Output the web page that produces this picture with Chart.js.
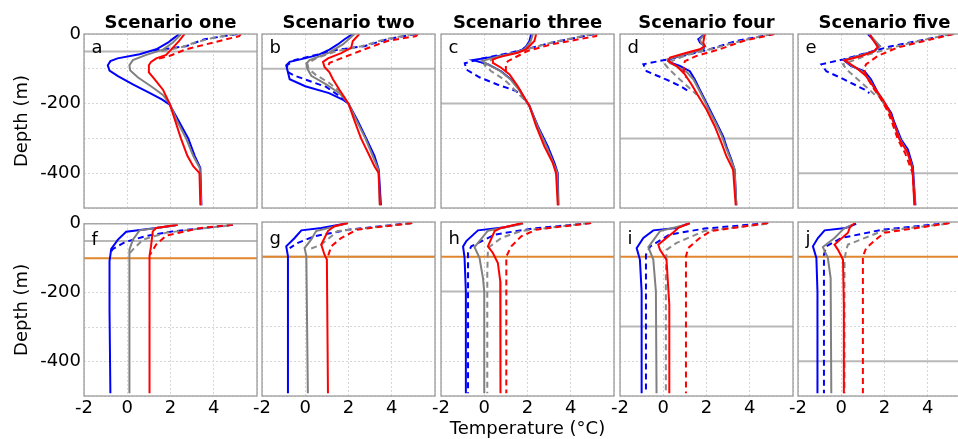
<!DOCTYPE html>
<html><head><meta charset="utf-8">
<script src="https://cdn.jsdelivr.net/npm/chart.js@4.4.1/dist/chart.umd.min.js"></script>
<style>
html,body{margin:0;padding:0;background:#fff;overflow:hidden}
#fig{position:relative;width:958px;height:439px;overflow:hidden;background:#fff}
#fig canvas{position:absolute}
</style></head><body><div id="fig"></div>
<script>
// ---------- labels ----------
const titles = ['Scenario one','Scenario two','Scenario three','Scenario four','Scenario five'];
const lettersTop = ['a','b','c','d','e'];
const lettersBottom = ['f','g','h','i','j'];
const xTickLabels = [-2,0,2,4];
const yTickLabels = [0,-200,-400];
const refDepths = [50,100,200,300,400];   // grey line depth per column (m)
const mixDepth = 100;                      // orange line, bottom row (m)

// ---------- profiles: [depth (m), temperature (°C)] ----------
// Scenario one (a)
const aRed   = [[0,2.65],[20,2.4],[40,2.1],[60,1.8],[70,1.34],[80,1.1],[90,1.0],[110,1.0],[130,1.26],[160,1.65],[200,1.96],[250,2.22],[300,2.48],[350,2.78],[380,3.05],[400,3.34],[492,3.38]];
const aRedD  = [[0,5.25],[6,5.18],[25,3.95],[44,2.72],[63,1.95],[73,1.34]];
const aGray  = [[0,2.5],[25,2.1],[45,1.65],[60,0.88],[75,0.26],[90,0.1],[105,0.14],[125,0.5],[150,1.1],[175,1.65],[200,1.96],[250,2.3],[300,2.72],[350,3.05],[385,3.35],[492,3.42]];
const aGrayD = [[0,5.0],[12,3.9],[25,3.1],[38,2.5],[52,1.4]];
const aBlue  = [[0,2.42],[12,2.15],[25,1.88],[44,1.34],[58,0.57],[70,-0.45],[78,-0.78],[90,-0.9],[105,-0.82],[121,-0.43],[145,0.26],[169,1.03],[188,1.6],[202,1.95],[250,2.38],[300,2.82],[350,3.12],[385,3.38],[492,3.43]];
const aBlueD = [[0,5.1],[15,3.57],[35,2.72],[48,1.2]];
// Scenario two (b)
const bRed   = [[0,2.5],[20,2.2],[40,2.12],[55,1.66],[70,1.05],[80,0.82],[95,0.89],[110,1.12],[130,1.28],[160,1.58],[200,2.0],[250,2.28],[300,2.58],[350,2.97],[380,3.2],[400,3.4],[492,3.45]];
const bRedD  = [[0,5.2],[6,5.12],[20,3.8],[44,2.74],[68,1.74],[83,1.12],[100,1.0]];
const bGray  = [[0,2.28],[30,1.74],[55,1.05],[75,0.2],[85,0.05],[100,0.1],[120,0.28],[145,0.97],[170,1.58],[200,2.0],[250,2.38],[300,2.78],[350,3.12],[390,3.38],[492,3.45]];
const bGrayD = [[0,5.0],[15,3.7],[35,2.6],[50,1.4],[70,0.5],[85,0.1],[100,0.15],[118,0.5],[140,1.1],[165,1.6],[195,1.95]];
const bBlue  = [[0,2.2],[15,1.82],[30,1.5],[45,1.12],[60,0.6],[70,-0.03],[80,-0.72],[90,-0.88],[110,-0.8],[130,-0.72],[150,0.0],[170,1.1],[190,1.78],[200,2.0],[250,2.43],[300,2.82],[350,3.2],[390,3.4],[492,3.5]];
const bBlueD = [[0,5.12],[15,3.8],[35,2.74],[45,1.5],[60,0.5],[75,-0.5],[90,-0.85],[110,-0.78],[120,-0.49],[152,0.97],[175,1.5],[195,1.9]];
// Scenario three (c)
const cRed   = [[0,2.4],[20,2.32],[44,1.94],[54,1.55],[65,0.78],[73,0.4],[83,0.4],[97,0.78],[116,1.17],[150,1.55],[183,1.86],[207,2.09],[265,2.4],[323,2.78],[371,3.17],[400,3.32],[492,3.4]];
const cRedD  = [[0,5.2],[6,5.17],[30,3.09],[49,2.0],[78,1.09],[87,1.0],[107,1.0],[116,1.17]];
const cGray  = [[0,2.25],[20,2.15],[35,1.98],[44,1.85],[54,1.45],[65,0.6],[78,-0.1],[90,0.25],[107,0.75],[131,1.22],[160,1.6],[193,1.94],[207,2.09],[265,2.45],[323,2.88],[371,3.2],[400,3.38],[492,3.42]];
const cGrayD = [[0,5.0],[22,3.3],[45,1.9],[62,0.9],[80,0.1],[88,0.0],[107,0.32],[130,0.9],[150,1.25],[170,1.55],[190,1.88]];
const cBlue  = [[0,2.17],[20,2.09],[35,1.94],[44,1.78],[54,1.4],[65,0.48],[75,-0.52],[87,0.17],[107,0.78],[131,1.25],[160,1.63],[193,1.94],[207,2.09],[265,2.48],[323,2.94],[371,3.25],[400,3.4],[492,3.43]];
const cBlueD = [[0,5.1],[25,3.1],[44,1.9],[58,0.9],[72,-0.2],[84,-0.9],[102,-0.83],[125,-0.2],[145,0.6],[164,1.48],[190,1.9]];
// Scenario four (d)
const dRed   = [[0,1.92],[25,1.85],[35,1.92],[44,1.69],[54,1.08],[68,0.31],[78,0.23],[92,0.62],[116,1.0],[145,1.31],[178,1.62],[217,2.0],[265,2.38],[313,2.69],[351,2.92],[390,3.23],[492,3.35]];
const dRedD  = [[0,5.15],[20,3.7],[44,2.6],[63,1.54],[78,1.0],[90,0.95],[110,0.95],[125,1.05]];
const dGray  = [[0,1.95],[15,1.7],[25,1.75],[35,1.9],[44,1.8],[58,1.0],[73,0.2],[83,0.3],[95,0.7],[110,1.1],[131,1.4],[160,1.65],[188,1.88],[217,2.1],[255,2.42],[294,2.72],[323,2.88],[361,3.12],[390,3.3],[492,3.38]];
const dGrayD = [[0,5.0],[20,3.6],[40,2.4],[60,1.1],[75,0.5],[87,0.08],[100,0.25],[131,0.77],[160,1.3],[175,1.55]];
const dBlue  = [[0,1.92],[15,1.62],[25,1.7],[35,1.92],[44,1.85],[58,1.08],[73,0.23],[83,0.38],[92,0.77],[107,1.23],[131,1.46],[160,1.69],[188,1.92],[217,2.15],[255,2.46],[294,2.77],[323,2.92],[361,3.15],[390,3.3],[492,3.38]];
const dBlueD = [[0,5.08],[20,3.38],[44,2.15],[63,0.9],[73,0.2],[87,-0.92],[107,-0.77],[131,0.15],[150,0.8],[167,1.23]];
// Scenario five (e)
const eRed   = [[0,1.31],[15,1.45],[38,1.69],[50,1.5],[63,0.92],[76,0.15],[97,0.69],[121,1.15],[155,1.54],[188,1.92],[222,2.23],[260,2.46],[303,2.69],[342,3.08],[390,3.3],[492,3.38]];
const eRedD  = [[0,5.2],[20,3.85],[39,2.6],[63,1.69],[87,1.15],[100,1.05],[121,1.15],[155,1.48],[188,1.85],[222,2.15],[260,2.38],[303,2.62],[342,2.95],[370,3.12],[400,3.3],[492,3.4]];
const eGray  = [[0,1.3],[15,1.5],[35,1.8],[49,1.55],[63,0.8],[75,0.15],[92,0.5],[107,0.95],[131,1.3],[169,1.65],[198,1.95],[227,2.25],[255,2.42],[303,2.72],[332,3.0],[380,3.28],[492,3.42]];
const eGrayD = [[0,5.05],[20,3.6],[35,2.6],[58,1.3],[75,0.6],[87,0.08],[102,0.25],[131,0.77],[160,1.3],[175,1.55]];
const eBlue  = [[0,1.23],[15,1.46],[35,1.77],[49,1.54],[63,0.77],[75,0.12],[92,0.46],[107,1.08],[131,1.38],[169,1.69],[198,2.0],[227,2.31],[255,2.46],[303,2.77],[332,3.08],[380,3.31],[492,3.43]];
const eBlueD = [[0,5.15],[20,3.54],[35,2.31],[54,1.2],[73,0.1],[87,-0.92],[107,-0.69],[131,0.15],[160,1.08],[170,1.3]];
// bottom row (f-j)
const fRed   = [[3,2.34],[12,1.34],[22,1.18],[65,1.1],[94,1.03],[492,1.03]];
const fRedD  = [[3,4.88],[12,3.4],[26,2.4],[34,1.8],[60,1.34],[90,1.05]];
const fGray  = [[5,2.2],[19,0.57],[46,0.26],[75,0.1],[492,0.1]];
const fGrayD = [[5,4.7],[15,3.2],[26,1.8],[46,0.72],[75,0.26],[85,0.12]];
const fBlue  = [[4,2.26],[12,1.34],[23,-0.05],[46,-0.43],[73,-0.74],[108,-0.82],[250,-0.82],[492,-0.78]];
const fBlueD = [[3,4.88],[12,3.6],[22,2.1],[35,0.9],[53,-0.1],[73,-0.66],[85,-0.8]];

const gRed   = [[3,1.97],[12,1.35],[26,1.05],[65,0.74],[94,0.89],[108,1.0],[492,1.05]];
const gRedD  = [[3,4.95],[22,2.4],[46,1.66],[70,1.2],[108,1.0]];
const gGray  = [[4,1.97],[26,0.5],[50,0.28],[75,-0.03],[98,0.05],[492,0.12]];
const gGrayD = [[4,4.9],[26,1.5],[65,0.74],[80,0.12]];
const gBlue  = [[4,1.89],[17,0.74],[24,-0.18],[46,-0.49],[70,-0.88],[98,-0.8],[492,-0.8]];
const gBlueD = [[3,4.89],[22,2.0],[41,0.43],[60,-0.34],[75,-0.72]];

const hRed   = [[3,1.78],[17,0.78],[26,0.48],[70,0.17],[89,0.4],[118,0.63],[170,0.74],[492,0.75]];
const hRedD  = [[3,4.94],[22,2.4],[41,1.71],[70,1.25],[99,1.02],[492,1.02]];
const hGray  = [[5,1.8],[25,0.17],[72,-0.45],[103,-0.22],[161,-0.06],[200,0.0],[492,0.0]];
const hGrayD = [[3,4.85],[26,1.7],[46,0.78],[75,0.17],[150,0.14],[492,0.14]];
const hBlue  = [[5,1.71],[15,0.95],[24,-0.29],[55,-0.83],[70,-0.98],[103,-0.91],[200,-0.85],[492,-0.85]];
const hBlueD = [[3,4.94],[19,2.2],[36,0.5],[70,-0.6],[89,-0.75],[492,-0.75]];

const iRed   = [[3,1.23],[17,0.69],[26,0.54],[65,-0.23],[80,-0.15],[108,0.15],[238,0.28],[492,0.28]];
const iRedD  = [[3,4.85],[26,2.2],[46,1.69],[75,1.15],[99,1.05],[492,1.05]];
const iGray  = [[5,1.23],[26,-0.15],[72,-0.69],[108,-0.46],[200,-0.34],[492,-0.31]];
const iGrayD = [[5,4.8],[26,1.9],[60,0.62],[80,0.15],[150,0.12],[492,0.12]];
const iBlue  = [[5,1.15],[17,0.6],[24,-0.46],[46,-0.92],[75,-1.23],[108,-1.08],[200,-1.0],[492,-1.0]];
const iBlueD = [[3,4.85],[19,1.9],[36,0.3],[70,-0.6],[94,-0.8],[492,-0.8]];

const jRed   = [[3,0.62],[15,0.4],[31,0.31],[65,-0.31],[80,-0.15],[108,0.08],[238,0.12],[492,0.12]];
const jRedD  = [[3,5.0],[31,2.0],[46,1.69],[75,1.15],[99,1.0],[492,1.0]];
const jGray  = [[9,0.46],[20,0.1],[46,-0.31],[72,-0.85],[103,-0.62],[161,-0.49],[492,-0.46]];
const jGrayD = [[5,4.9],[26,1.9],[65,0.31],[80,0.23],[108,0.15],[492,0.15]];
const jBlue  = [[5,0.69],[17,0.2],[24,-0.77],[46,-1.08],[70,-1.31],[103,-1.15],[200,-1.1],[492,-1.1]];
const jBlueD = [[3,5.0],[22,1.9],[46,0.0],[70,-0.69],[94,-0.8],[492,-0.8]];

const topSeries = [
  [aRed,aRedD,aGray,aGrayD,aBlue,aBlueD],
  [bRed,bRedD,bGray,bGrayD,bBlue,bBlueD],
  [cRed,cRedD,cGray,cGrayD,cBlue,cBlueD],
  [dRed,dRedD,dGray,dGrayD,dBlue,dBlueD],
  [eRed,eRedD,eGray,eGrayD,eBlue,eBlueD]];
const bottomSeries = [
  [fRed,fRedD,fGray,fGrayD,fBlue,fBlueD],
  [gRed,gRedD,gGray,gGrayD,gBlue,gBlueD],
  [hRed,hRedD,hGray,hGrayD,hBlue,hBlueD],
  [iRed,iRedD,iGray,iGrayD,iBlue,iBlueD],
  [jRed,jRedD,jGray,jGrayD,jBlue,jBlueD]];

// ---------- styling / layout ----------
const FONT = "'DejaVu Sans', sans-serif";
Chart.defaults.font.family = FONT;
Chart.defaults.font.size = 18;
Chart.defaults.color = '#000';

const lineStyles = [
  {c:'#ff0000', d:[]}, {c:'#ff0000', d:[6,4]},
  {c:'#808080', d:[]}, {c:'#8a8a8a', d:[6,4]},
  {c:'#0000ff', d:[]}, {c:'#0000ff', d:[6,4]}];
const X_MIN = -2, X_MAX = 6, Y_MIN = -500, Y_MAX = 0;
const colLeft = [84, 262, 441, 620, 798];
const rowTop = [34, 222];
const plotW = 173, plotH = 174;

const framePlugin = {
  id: 'frame',
  afterDatasetsDraw(chart, args, o) {
    const {ctx, chartArea: a, scales} = chart;
    ctx.save();
    ctx.font = "18px " + FONT;
    ctx.fillStyle = '#000';
    ctx.textAlign = 'left';
    ctx.textBaseline = 'alphabetic';
    ctx.fillText(o.letter, scales.x.getPixelForValue(-1.65), scales.y.getPixelForValue(-o.letterDepth));
    ctx.strokeStyle = '#9c9c9c';
    ctx.lineWidth = 1.3;
    ctx.strokeRect(a.left, a.top, a.width, a.height);
    ctx.restore();
  }
};

const fig = document.getElementById('fig');

function profileSet(arr, st) {
  return {data: arr.map(p => ({x: p[1], y: -p[0]})), showLine: true, borderColor: st.c,
    borderWidth: 2, borderDash: st.d, pointRadius: 0, fill: false, tension: 0};
}
function hLine(depth, color, width) {
  return {data: [{x: X_MIN, y: -depth}, {x: X_MAX, y: -depth}], showLine: true,
    borderColor: color, borderWidth: width, pointRadius: 0, fill: false};
}

function makePanel(row, col) {
  const L = colLeft[col], T = rowTop[row];
  const yW = col === 0 ? 84 : 0;
  const padL = col === 0 ? 0 : 14;
  const cLeft = L - yW - padL;
  const padTop = row === 0 ? 0 : 12;
  const titleH = row === 0 ? 34 : 0;
  const cTop = row === 0 ? 0 : T - padTop;
  const xH = row === 0 ? 0 : 439 - (T + plotH);
  const padB = row === 0 ? 30 : 0;
  const w = (L - cLeft) + plotW + 14;
  const h = padTop + titleH + plotH + xH + padB;
  const cv = document.createElement('canvas');
  cv.width = w; cv.height = h;
  cv.style.left = cLeft + 'px'; cv.style.top = cTop + 'px';
  cv.style.width = w + 'px'; cv.style.height = h + 'px';
  fig.appendChild(cv);

  const series = row === 0 ? topSeries[col] : bottomSeries[col];
  const datasets = series.map((s, i) => profileSet(s, lineStyles[i]));
  if (row === 1) datasets.push(hLine(mixDepth, '#e0862f', 2));
  datasets.push(hLine(refDepths[col], '#b8b8b8', 2));

  const gridOpts = {color: '#d6d6d6', lineWidth: 1, drawTicks: false};
  new Chart(cv, {
    type: 'scatter',
    data: {datasets},
    options: {
      responsive: false, animation: false, devicePixelRatio: 1,
      layout: {padding: {left: padL, right: 14, top: padTop, bottom: padB}},
      plugins: {
        legend: {display: false}, tooltip: {enabled: false},
        title: {display: row === 0, text: titles[col], fullSize: false,
          font: {size: 18, weight: 'bold', lineHeight: 1}, padding: {top: 14.5, bottom: 1.5}, color: '#000'},
        frame: {letter: row === 0 ? lettersTop[col] : lettersBottom[col], letterDepth: row === 0 ? 56 : 62}
      },
      scales: {
        x: {type: 'linear', min: X_MIN, max: X_MAX,
          afterFit: s => { s.height = xH; },
          ticks: {display: row === 1, stepSize: 2, autoSkip: false, maxRotation: 0, padding: 2,
            callback: v => xTickLabels.includes(v) ? String(v) : ''},
          grid: gridOpts, border: {display: false, dash: [2, 2]},
          title: {display: row === 1 && col === 2, text: 'Temperature (°C)',
            font: {size: 18, lineHeight: 1}, padding: {top: 0, bottom: 0.5}}
        },
        y: {type: 'linear', min: Y_MIN, max: Y_MAX,
          afterFit: s => { s.width = yW; },
          ticks: {display: col === 0, stepSize: 100, autoSkip: false, padding: 3,
            callback: v => yTickLabels.includes(v) ? String(v) : ''},
          grid: gridOpts, border: {display: false, dash: [2, 2]},
          title: {display: col === 0, text: 'Depth (m)', font: {size: 18, lineHeight: 1.2},
            padding: {top: 11.5, bottom: 0}}
        }
      }
    },
    plugins: [framePlugin]
  });
}

for (let r = 0; r < 2; r++) for (let c = 0; c < 5; c++) makePanel(r, c);
</script></body></html>
